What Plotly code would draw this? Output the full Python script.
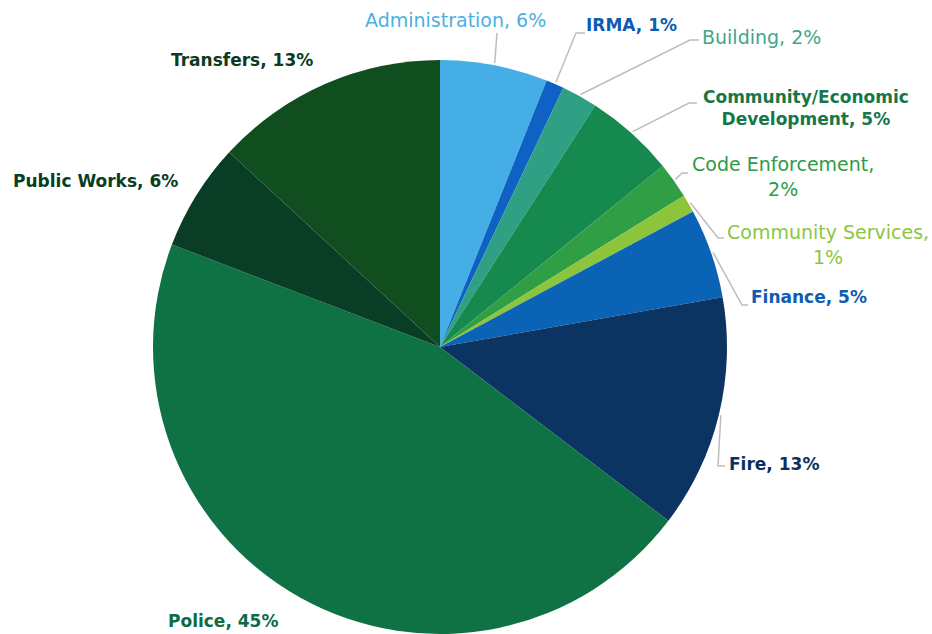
import math
import plotly.graph_objects as go

# General fund expenditures by department (percent of total)
departments = [
    "Administration", "IRMA", "Building", "Community/Economic Development",
    "Code Enforcement", "Community Services", "Finance", "Fire", "Police",
    "Public Works", "Transfers",
]
shares = [6, 1, 2, 5, 2, 1, 5, 13, 45, 6, 13]

slice_colors = [
    "#45AEE6", "#0F62C4", "#2FA083", "#15894E", "#2F9E45", "#8CC43C",
    "#0B63B5", "#0B3463", "#0E7244", "#0A3D26", "#104E1F",
]
label_colors = [
    "#4AB0E3", "#0E5BB5", "#3FA68A", "#17774A", "#2E9A4A", "#8CC63F",
    "#0F5CB0", "#0D2F5E", "#0E6B44", "#0A3D22", "#0D3B20",
]
label_text = [
    "Administration, 6%", "<b>IRMA, 1%</b>", "Building, 2%",
    "<b>Community/Economic<br>Development, 5%</b>", "Code Enforcement,<br>2%",
    "Community Services,<br>1%", "<b>Finance, 5%</b>", "<b>Fire, 13%</b>",
    "<b>Police, 45%</b>", "<b>Public Works, 6%</b>", "<b>Transfers, 13%</b>",
]

W, H = 932, 634
CX, CY, R = 440, 347, 287

# label centres in pixels
label_pos = [
    (455, 20), (631, 25), (761, 37), (806, 108), (783, 176), (828, 244),
    (809, 297), (774, 464), (223, 621), (95, 181), (242, 60),
]
label_size = [19, 17, 19, 17, 19, 19, 17, 17, 17, 17, 17]

# leader line bends/ends in pixels (None = no leader)
leader_tail = [
    [(497, 33)],
    [(576, 33), (585, 33)],
    [(690, 40), (699, 40)],
    [(689, 103), (697, 103)],
    [(682, 173), (688, 173)],
    [(718, 238), (724, 238)],
    [(742, 305), (748, 305)],
    [(718, 466), (725, 466)],
    None, None, None,
]


def px(x, y):
    return x / W, 1 - y / H


fig = go.Figure(go.Pie(
    labels=departments,
    values=shares,
    sort=False,
    direction="clockwise",
    rotation=0,
    marker=dict(colors=slice_colors, line=dict(width=0)),
    textinfo="none",
    hoverinfo="label+percent",
    domain=dict(x=[(CX - R) / W, (CX + R) / W], y=[0, 1 - (CY - R) / H]),
))

total = sum(shares)
cum = 0
shapes = []
for i, v in enumerate(shares):
    mid = (cum + v / 2) / total * 2 * math.pi
    cum += v
    tail = leader_tail[i]
    if tail is None:
        continue
    ex = CX + (R + 2) * math.sin(mid)
    ey = CY - (R + 2) * math.cos(mid)
    pts = [(ex, ey)] + tail
    path = "M " + " L ".join("%.5f,%.5f" % px(x, y) for x, y in pts)
    shapes.append(dict(type="path", xref="paper", yref="paper", path=path,
                       line=dict(color="#BDBDBD", width=1.5)))

annotations = []
for i, t in enumerate(label_text):
    x, y = px(*label_pos[i])
    annotations.append(dict(
        x=x, y=y, xref="paper", yref="paper", text=t, showarrow=False,
        xanchor="center", yanchor="middle", align="center",
        font=dict(family="DejaVu Sans", size=label_size[i], color=label_colors[i]),
    ))

fig.update_layout(
    width=W, height=H,
    margin=dict(l=0, r=0, t=0, b=0),
    paper_bgcolor="white",
    plot_bgcolor="white",
    showlegend=False,
    shapes=shapes,
    annotations=annotations,
)

fig.write_html("out.html")
